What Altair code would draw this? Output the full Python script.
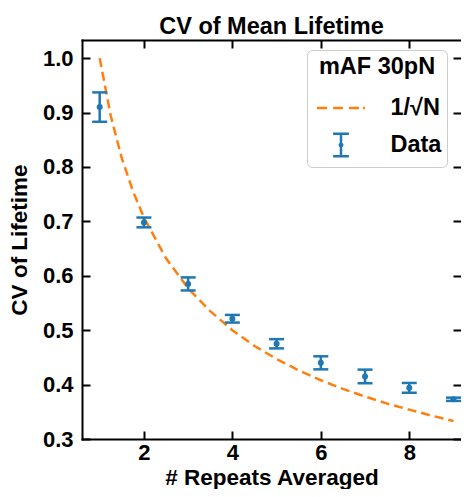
import altair as alt
import pandas as pd

# ---- data ----
N = [1, 2, 3, 4, 5, 6, 7, 8, 9]
CV_MEAN = [0.910, 0.698, 0.585, 0.521, 0.475, 0.440, 0.415, 0.394, 0.373]
CV_ERR = [0.027, 0.009, 0.012, 0.007, 0.0085, 0.012, 0.0125, 0.009, 0.003]

N_CURVE = [1, 1.25, 1.5, 1.75, 2, 2.5, 3, 3.5, 4, 4.5, 5, 5.5, 6, 6.5, 7, 7.5, 8, 8.5, 9]
CV_CURVE = [1.000, 0.894, 0.816, 0.756, 0.707, 0.632, 0.577, 0.535, 0.500, 0.471,
            0.447, 0.426, 0.408, 0.392, 0.378, 0.365, 0.354, 0.343, 0.333]

SERIES = ["1/√N", "Data"]
COLORS = ["#ff7f0e", "#1f77b4"]
X_TICKS = [2, 4, 6, 8]
Y_TICKS = [0.3, 0.4, 0.5, 0.6, 0.7, 0.8, 0.9, 1.0]
X_DOMAIN = [0.6, 9.17]
Y_DOMAIN = [0.3, 1.0333]

FONT = "Liberation Sans"

data = pd.DataFrame({
    "N": N,
    "cv": CV_MEAN,
    "lo": [m - e for m, e in zip(CV_MEAN, CV_ERR)],
    "hi": [m + e for m, e in zip(CV_MEAN, CV_ERR)],
    "series": SERIES[1],
})
curve = pd.DataFrame({"N": N_CURVE, "cv": CV_CURVE, "series": SERIES[0]})

xscale = alt.Scale(domain=X_DOMAIN, nice=False, zero=False)
yscale = alt.Scale(domain=Y_DOMAIN, nice=False, zero=False)

# legend glyphs: dashed line and error bar (unit square -1..1)
DASH_PATH = "M-1,0H-0.58M-0.33,0H0.08M0.33,0H0.75M0.92,0H1"
ERR_PATH = ("M-0.33,-0.47H0.33M0,-0.47V0.47M-0.33,0.47H0.33"
            "M-0.05,0A0.05,0.05 0 1,0 0.05,0A0.05,0.05 0 1,0 -0.05,0Z")

cscale = alt.Scale(domain=SERIES, range=COLORS)
sscale = alt.Scale(domain=SERIES, range=[DASH_PATH, ERR_PATH])

legend = alt.Legend(
    title="mAF 30pN", orient="none", legendX=225, legendY=10,
    titleAnchor="middle", titleFont=FONT, titleFontSize=23.5, titleFontWeight="bold",
    titleColor="black", titlePadding=4,
    labelFont=FONT, labelFontSize=23.5, labelFontWeight="bold", labelColor="black",
    labelOffset=24, symbolOffset=3.5, symbolSize=2304, symbolStrokeWidth=2.5,
    fillColor="white", strokeColor="#cccccc", cornerRadius=5, padding=5,
    rowPadding=-4,
)

tick_axis = dict(offset=-8, tickSize=8, tickWidth=2, tickColor="black",
                 domain=False, grid=False)
line_axis = dict(offset=0, ticks=False, labels=False, title=None, grid=False,
                 domain=True, domainColor="black", domainWidth=2, domainCap="square")

x_bottom = alt.Axis(orient="bottom", values=X_TICKS, labelFont=FONT, labelFontSize=22,
                    labelFontWeight="bold", labelColor="black", labelPadding=3,
                    title="# Repeats Averaged", titleFont=FONT, titleFontSize=22.5,
                    titleFontWeight="bold", titleColor="black", titlePadding=3,
                    **tick_axis)
y_left = alt.Axis(orient="left", values=Y_TICKS, format=".1f", labelFont=FONT,
                  labelFontSize=22, labelFontWeight="bold", labelColor="black",
                  labelPadding=9, title="CV of Lifetime", titleFont=FONT,
                  titleFontSize=22.5, titleFontWeight="bold", titleColor="black",
                  titlePadding=11, **tick_axis)
x_top = alt.Axis(orient="top", values=X_TICKS, labels=False, title=None, **tick_axis)
y_right = alt.Axis(orient="right", values=Y_TICKS, labels=False, title=None, **tick_axis)
x_bottom_line = alt.Axis(orient="bottom", **line_axis)
y_left_line = alt.Axis(orient="left", **line_axis)
x_top_line = alt.Axis(orient="top", **line_axis)

line = alt.Chart(curve).mark_line(strokeWidth=2.5, strokeDash=[9, 5], color=COLORS[0]).encode(
    x=alt.X("N:Q", scale=xscale, axis=x_bottom),
    y=alt.Y("cv:Q", scale=yscale, axis=y_left),
)

bars = alt.Chart(data).mark_rule(strokeWidth=2.5, color=COLORS[1]).encode(
    x=alt.X("N:Q", scale=xscale, axis=x_top),
    y=alt.Y("lo:Q", scale=yscale, axis=y_right),
    y2="hi:Q",
)

caps_lo = alt.Chart(data).mark_tick(orient="horizontal", size=15, thickness=2.5,
                                    color=COLORS[1], opacity=1).encode(
    x=alt.X("N:Q", scale=xscale, axis=x_bottom_line),
    y=alt.Y("lo:Q", scale=yscale, axis=y_left_line),
)
caps_hi = alt.Chart(data).mark_tick(orient="horizontal", size=15, thickness=2.5,
                                    color=COLORS[1], opacity=1).encode(
    x=alt.X("N:Q", scale=xscale, axis=x_top_line),
    y=alt.Y("hi:Q", scale=yscale, axis=None),
)

dots = alt.Chart(data).mark_circle(size=36, opacity=1, color=COLORS[1]).encode(
    x=alt.X("N:Q", scale=xscale, axis=None),
    y=alt.Y("cv:Q", scale=yscale, axis=None),
)

# legend carrier: no rows drawn, scales give the two legend entries
legend_layer = alt.Chart(curve).transform_filter("false").mark_point(
    filled=False, size=2304, strokeWidth=2.5, opacity=1
).encode(
    x=alt.X("N:Q", scale=xscale, axis=None),
    y=alt.Y("cv:Q", scale=yscale, axis=None),
    color=alt.Color("series:N", scale=cscale, legend=legend),
    shape=alt.Shape("series:N", scale=sscale, legend=legend),
)

chart = alt.layer(line, bars, caps_lo, caps_hi, dots, legend_layer).resolve_axis(
    x="independent", y="independent"
).properties(
    width=379, height=399,
    title=alt.TitleParams("CV of Mean Lifetime", font=FONT, fontSize=23.5,
                          fontWeight="bold", color="black", anchor="middle",
                          baseline="alphabetic", offset=7, dy=25),
    autosize=alt.AutoSizeParams(type="none"),
    padding={"left": 74, "top": 32, "right": 0, "bottom": 50},
).configure_view(stroke=None)

chart.save("out.html", embed_options={"renderer": "svg", "actions": False})
